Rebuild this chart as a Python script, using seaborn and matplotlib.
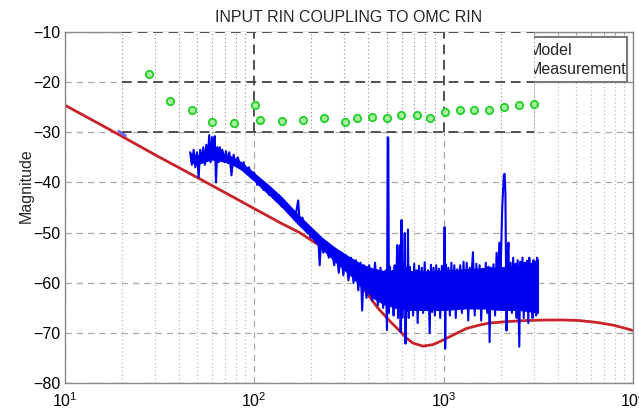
import matplotlib
matplotlib.use("Agg")
import matplotlib.pyplot as plt
import seaborn as sns
import pandas as pd
from matplotlib.patches import Rectangle

# ---------------- data ----------------
title = "INPUT RIN COUPLING TO OMC RIN"
y_label = "Magnitude"
legend_labels = ["Model", "Measurement"]
y_ticks = [-80, -70, -60, -50, -40, -30, -20, -10]

model_f = [10, 15, 20, 30, 50, 70, 100, 140, 174, 218, 260, 300, 350, 392, 450, 520,
           588, 637, 690, 778, 880, 993, 1150, 1318, 1550, 1750, 2200, 2730, 3500,
           4300, 5200, 6500, 7800, 9000, 10000]
model_db = [-24.6, -28.2, -30.8, -34.5, -39.0, -42.0, -45.2, -48.2, -50.0, -52.4, -54.5,
            -56.5, -59.3, -62.0, -65.0, -67.6, -69.6, -71.0, -72.0, -72.6, -72.3, -71.4,
            -70.2, -69.1, -68.4, -68.0, -67.7, -67.5, -67.4, -67.4, -67.5, -67.9, -68.4,
            -69.0, -69.5]

# measured spectrum trace (read point by point), 10 values per row
meas_f = [46, 47, 48, 49, 50, 51, 52, 53, 54, 55,
          56, 57, 58, 59, 60, 61, 62, 63, 64, 65,
          66, 67, 68, 70, 71, 73, 74, 76, 78, 80,
          82, 85, 88, 91, 94, 97, 100, 104, 108, 112,
          116, 120, 125, 130, 135, 140, 146, 152, 158, 164,
          171, 174, 180, 186, 192, 199, 205, 212, 218, 222,
          226, 232, 240, 248, 256, 265, 272, 280, 288, 296,
          305, 315, 325, 335, 345, 355, 365, 372, 380, 392,
          405, 420, 435, 450, 465, 480, 495, 503,
          507, 511, 515, 522, 530, 538, 545, 552, 560, 569,
          575, 582, 588, 594, 600, 606, 611, 616, 624, 630,
          637, 643, 649, 655, 662, 670, 680, 690, 700, 710,
          720, 730, 742, 755, 768, 780, 795, 810, 828, 845,
          858, 870, 885, 900, 915, 930, 945, 960, 980, 1000,
          1006, 1013, 1020, 1030, 1040, 1060, 1080, 1100, 1120, 1140,
          1160, 1180, 1200, 1225, 1250, 1275, 1300, 1325, 1350, 1375,
          1400, 1415, 1430, 1460, 1490, 1520, 1550, 1580, 1610, 1640,
          1670, 1700, 1725, 1750, 1775, 1800, 1835, 1870, 1905, 1940,
          1970, 2000, 2040, 2080, 2100, 2120, 2150, 2175, 2200, 2230,
          2260, 2295, 2330, 2365, 2400, 2430, 2460, 2485, 2510, 2540,
          2570, 2610, 2650, 2685, 2720, 2760, 2800, 2835, 2870, 2910,
          2950, 2985, 3020, 3050, 3080, 3115, 3150, 3150]
meas_db = [-34.0, -36.5, -33.5, -37.0, -34.0, -39.0, -33.5, -36.0, -33.0, -36.5,
           -32.5, -35.5, -30.6, -36.0, -31.0, -35.5, -30.8, -40.0, -33.0, -36.0,
           -33.0, -35.5, -33.5, -36.0, -33.8, -36.2, -34.0, -38.6, -34.5, -36.5,
           -35.0, -37.0, -36.0, -38.0, -37.0, -39.0, -38.0, -40.5, -39.5, -41.5,
           -40.5, -42.5, -41.5, -43.5, -42.5, -44.8, -44.0, -46.0, -45.5, -47.5,
           -43.6, -48.0, -47.0, -49.5, -48.5, -51.0, -49.5, -52.0, -50.8, -56.5,
           -51.5, -54.0, -52.5, -55.0, -53.0, -56.5, -53.5, -58.0, -54.0, -58.5,
           -54.5, -59.5, -55.0, -60.0, -55.5, -61.5, -56.0, -65.5, -56.5, -63.0,
           -56.5, -63.5, -56.0, -64.5, -57.0, -65.0, -57.5, -69.4,
           -31.0, -31.2, -66.0, -56.8, -64.5, -57.6, -66.5, -56.5, -65.0, -52.5,
           -67.0, -57.2, -52.5, -69.8, -47.5, -67.0, -56.0, -64.8, -50.1, -72.1,
           -57.0, -65.5, -49.4, -67.0, -56.8, -65.2, -57.8, -66.5, -56.2, -64.6,
           -57.5, -68.0, -56.6, -65.3, -57.0, -66.0, -55.9, -64.7, -57.5, -70.0,
           -56.4, -65.8, -57.0, -66.5, -56.5, -64.9, -57.2, -67.0, -56.6, -65.4,
           -57.5, -48.9, -73.1, -56.3, -65.0, -57.0, -66.5, -56.0, -64.6, -56.5,
           -67.0, -57.3, -65.2, -56.5, -66.0, -55.8, -64.8, -56.0, -67.5, -57.0,
           -65.0, -56.5, -53.9, -66.5, -56.2, -65.1, -56.5, -67.5, -57.2, -64.7,
           -56.0, -66.0, -56.8, -71.8, -57.0, -64.9, -56.3, -66.5, -54.0, -60.0,
           -52.0, -58.0, -45.0, -38.5, -38.3, -42.0, -69.5, -55.5, -52.0, -64.8,
           -56.0, -66.0, -55.0, -65.3, -56.2, -67.0, -55.5, -64.6, -72.7, -55.8,
           -65.2, -55.0, -67.0, -56.0, -64.5, -55.6, -68.0, -55.0, -65.0, -56.2,
           -67.0, -55.5, -64.8, -55.8, -66.5, -55.0, -66.0, -55.5]

# dense core of the noisy measurement band
band_f = [46, 50, 55, 60, 66, 74, 85, 100, 120, 140, 170, 200, 230, 270, 320, 370, 420,
          480, 550, 650, 800, 1000, 1300, 1600, 2000, 2500, 3150]
band_hi = [-34.0, -34.5, -34.0, -33.5, -34.0, -34.5, -35.8, -38.0, -40.5, -42.8, -46.2,
           -48.8, -51.0, -53.0, -54.8, -56.2, -57.0, -57.5, -57.6, -57.6, -57.6, -57.4,
           -57.2, -57.0, -56.8, -56.4, -56.0]
band_lo = [-36.0, -36.5, -36.0, -35.5, -35.8, -36.2, -37.5, -39.8, -42.6, -45.0, -48.4,
           -51.0, -53.5, -56.0, -58.5, -61.0, -63.0, -64.3, -65.0, -65.5, -65.5, -65.5,
           -65.2, -65.2, -65.5, -65.5, -66.0]

# small stray measurement segment near 20 Hz
stray_f = [19.3, 21.0]
stray_db = [-29.8, -30.7]

# green points (pasted inset)
pts_f = [27.9, 36, 46.9, 60, 78, 101, 108, 140, 182, 233, 301, 351, 420, 500, 595, 720,
         853, 1021, 1222, 1453, 1747, 2090, 2490, 2993]
pts_db = [-18.4, -23.8, -25.5, -28.0, -28.2, -24.5, -27.6, -27.8, -27.5, -27.2, -28.0,
          -27.2, -27.0, -27.1, -26.6, -26.6, -27.2, -26.0, -25.6, -25.5, -25.6, -25.0,
          -24.6, -24.3]

# inset region (pasted panel) bounds and its grid
inset_x = [20, 3000]
inset_y = [-30, -10]
inset_minor_x = [20, 30, 40, 50, 60, 70, 80, 90, 200, 300, 400, 500, 600, 700, 800, 900,
                 2000, 3000]
inset_major_x = [100, 1000]
inset_major_y = [-10, -20, -30]

# ---------------- style ----------------
sns.set_style("white")
plt.rcParams['font.family'] = ['Liberation Sans', 'DejaVu Sans']
plt.rcParams['mathtext.fontset'] = 'custom'
plt.rcParams['mathtext.rm'] = 'Liberation Sans'

RED = '#c8232b'
BLUE = '#0000f0'
GRID = '#a8a8a8'
DARK = '#505050'

fig = plt.figure(figsize=(6.39, 4.11), dpi=100)
ax = fig.add_axes([0.101, 0.0674, 0.8897, 0.8555])
ax.set_xscale('log')
ax.set_xlim(10, 1e4)
ax.set_ylim(-80, -10)
ax.set_yticks(y_ticks)

ax.set_axisbelow(True)
ax.grid(True, which='major', color=GRID, lw=0.9, ls=(0, (5, 4)))
ax.grid(True, which='minor', axis='x', color='#b5b5b5', lw=0.8, ls=(0, (1, 2.5)))

for s in ax.spines.values():
    s.set_color('#8a8a8a')
    s.set_linewidth(1.0)
ax.tick_params(which='both', direction='in', top=True, right=True, colors='#8a8a8a',
               labelcolor='black', labelsize=11.5)
ax.tick_params(which='major', length=4)
ax.tick_params(which='minor', length=2.5)
ax.tick_params(axis='x', pad=6)
ax.tick_params(axis='y', pad=3)

# model
sns.lineplot(x=model_f, y=model_db, ax=ax, color=RED, lw=2.0, sort=False,
             estimator=None, zorder=2)
# measurement
ax.fill_between(band_f, band_lo, band_hi, color=BLUE, lw=0, zorder=3)
sns.lineplot(x=meas_f, y=meas_db, ax=ax, color=BLUE, lw=1.5, sort=False,
             estimator=None, zorder=3.1)
sns.lineplot(x=stray_f, y=stray_db, ax=ax, color='#6a6af0', lw=2.0, sort=False,
             estimator=None, zorder=3.1)

# legend box (partially hidden behind the pasted panel)
ax.add_patch(Rectangle((2400, -20), 9330 - 2400, 9.0, facecolor='white',
                       edgecolor='#7a7a7a', lw=1.5, zorder=4))
ax.text(2820, -13.7, legend_labels[0], fontsize=11.5, va='center', ha='left', zorder=4.1)
ax.text(2820, -17.6, legend_labels[1], fontsize=11.5, va='center', ha='left', zorder=4.1)

# pasted panel
ax.add_patch(Rectangle((inset_x[0], inset_y[0]), inset_x[1] - inset_x[0],
                       inset_y[1] - inset_y[0], facecolor='white', edgecolor='none',
                       zorder=5))
for xv in inset_minor_x:
    ax.plot([xv, xv], inset_y, color='#8c8c8c', lw=0.8, ls=(0, (1, 2.5)), zorder=5.2)
for xv in inset_major_x:
    ax.plot([xv, xv], inset_y, color=DARK, lw=1.4, ls=(0, (5, 3)), zorder=5.3)
for yv in inset_major_y:
    ax.plot(inset_x, [yv, yv], color=DARK, lw=1.4, ls=(0, (5, 3)), zorder=5.3)

pts = pd.DataFrame({'f': pts_f, 'db': pts_db})
sns.scatterplot(data=pts, x='f', y='db', ax=ax, s=28, marker='o',
                facecolor='#a8f0a0', edgecolor='#22d02a', linewidth=1.3, zorder=6,
                clip_on=False)

ax.set_title(title, fontsize=11.5, pad=7)
ax.set_xlabel('')
ax.set_ylabel(y_label, fontsize=11.5)
ax.yaxis.set_label_coords(-0.055, 0.561)

fig.savefig('out.png', dpi=100)
